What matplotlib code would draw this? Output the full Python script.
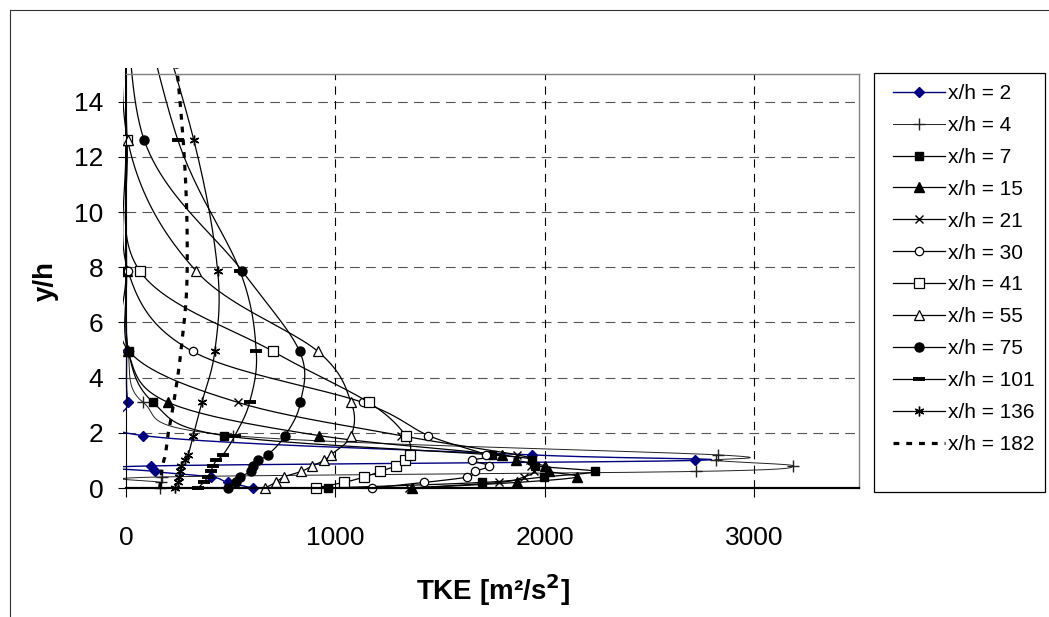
import numpy as np
import matplotlib
matplotlib.use("Agg")
import matplotlib.pyplot as plt
from matplotlib.lines import Line2D
from matplotlib.patches import Rectangle

plt.rcParams['font.family'] = ['Liberation Sans', 'DejaVu Sans']
plt.rcParams['lines.scale_dashes'] = False

# measuring heights y/h (the last one lies above the plotted range)
y_levels = [0, 0.2, 0.4, 0.6, 0.8, 1.0, 1.2, 1.9, 3.1, 4.95, 7.85, 12.6, 20]

labels = ["x/h = 2", "x/h = 4", "x/h = 7", "x/h = 15", "x/h = 21", "x/h = 30",
          "x/h = 41", "x/h = 55", "x/h = 75", "x/h = 101", "x/h = 136", "x/h = 182"]

# TKE [m2/s2] at each height, one list per station
tke_2 = [605, 486, 408, 138, 118, 2718, 1937, 80, 10, 3, 0, 0, 0]
tke_4 = [160, 165, 170, 2720, 3186, 2816, 2825, 510, 82, 10, 0, 0, 0]
tke_7 = [963, 1700, 1995, 2238, 1955, 1940, 1749, 467, 130, 12, 2, 0, 0]
tke_15 = [1368, 1865, 2154, 2020, 2000, 1864, 1794, 921, 202, 10, 3, 0, 0]
tke_21 = [1352, 1781, 1900, 1950, 1932, 1930, 1868, 1313, 535, 15, 0, 0, 0]
tke_30 = [1175, 1424, 1630, 1667, 1735, 1654, 1717, 1444, 1130, 318, 10, 0, 0]
tke_41 = [905, 1040, 1138, 1214, 1289, 1333, 1357, 1336, 1159, 702, 67, 5, 0]
tke_55 = [665, 714, 754, 837, 890, 945, 978, 1075, 1075, 916, 336, 8, 0]
tke_75 = [487, 527, 543, 598, 606, 630, 677, 760, 833, 829, 556, 87, 0]
tke_101 = [344, 371, 390, 405, 416, 432, 463, 520, 590, 622, 545, 248, 0]
tke_136 = [233, 249, 255, 260, 265, 281, 297, 321, 362, 424, 438, 324, 40]
tke_182 = [160, 165, 168, 170, 175, 180, 188, 200, 228, 262, 292, 273, 180]

series = [tke_2, tke_4, tke_7, tke_15, tke_21, tke_30,
          tke_41, tke_55, tke_75, tke_101, tke_136, tke_182]

styles = [
    dict(color='#000080', marker='D', ms=5.5, mfc='#000080', mec='#000080', lw=1.0),
    dict(color='#222222', marker='+', ms=8, mew=1.0, lw=0.7),
    dict(color='black', marker='s', ms=6, lw=0.9),
    dict(color='black', marker='^', ms=6.5, lw=0.9),
    dict(color='black', marker='x', ms=6, mew=1.0, lw=0.9),
    dict(color='black', marker='o', ms=6, mfc='white', mew=0.9, lw=0.9),
    dict(color='black', marker='s', ms=6.5, mfc='white', mew=0.9, lw=0.9),
    dict(color='black', marker='^', ms=7, mfc='white', mew=0.9, lw=0.9),
    dict(color='black', marker='o', ms=6.5, lw=0.9),
    dict(color='black', marker='_', ms=8, mew=2.8, lw=0.9),
    dict(color='black', marker=(6, 2, 0), ms=7, mew=1.0, lw=0.9),
    dict(color='black', marker='None', lw=2.3, dashes=(4.2, 5)),
]


# Excel-like smoothed line: bezier segments with catmull-rom control points
def smooth(x, y, n=24):
    p = np.column_stack([x, y]).astype(float)
    p = np.vstack([p[0], p, p[-1]])
    out = [p[1]]
    t = np.linspace(0, 1, n + 1)[1:, None]
    for i in range(1, len(p) - 2):
        p0, p1, p2, p3 = p[i - 1], p[i], p[i + 1], p[i + 2]
        c1 = p1 + (p2 - p0) / 6
        c2 = p2 - (p3 - p1) / 6
        seg = (1 - t)**3 * p1 + 3 * (1 - t)**2 * t * c1 + 3 * (1 - t) * t**2 * c2 + t**3 * p2
        out.extend(seg)
    return np.array(out), n


W, H = 1049, 617
fig = plt.figure(figsize=(W / 100, H / 100), dpi=100)
ax = fig.add_axes([126 / W, 1 - 488 / H, 733 / W, 414 / H])

clip = Rectangle((-0.004, -0.05), 1.004, 1.065, transform=ax.transAxes)

handles = []
for vals, st in zip(series, styles):
    curve, n = smooth(vals, y_levels)
    line, = ax.plot(curve[:, 0], curve[:, 1], markevery=[i * n for i in range(len(vals))], **st)
    line.set_clip_path(clip)
    handles.append(line)

ax.set_xlim(0, 3500)
ax.set_ylim(0, 15)
ax.set_xticks([0, 1000, 2000, 3000])
ax.set_yticks(range(0, 15, 2))

for y in range(2, 15, 2):
    ax.axhline(y, color='#555555', lw=0.8, dashes=(7, 4.5), zorder=0.5)
for x in [1000, 2000, 3000]:
    ax.axvline(x, color='black', lw=0.8, dashes=(6, 4.5), zorder=0.5)

ax.spines['left'].set_linewidth(0.8)
ax.spines['bottom'].set_linewidth(1.6)
for s in ['top', 'right']:
    ax.spines[s].set_color('#808080')
    ax.spines[s].set_linewidth(1.0)

ax.tick_params(axis='x', length=6.5, width=0.8, pad=21, labelsize=19)
ax.tick_params(axis='y', length=5.8, width=0.8, pad=10.5, labelsize=19)

ax.set_ylabel("y/h", fontsize=20, fontweight='bold', va='center')
ax.yaxis.set_label_coords(-0.11, 0.5)
ax.set_xlabel(r"TKE [m²/s$^\mathbf{2}$]", fontsize=20, fontweight='bold', va='center')
ax.xaxis.set_label_coords(0.5, -0.246)

# legend box drawn separately (Excel leaves extra room below the entries)
fig.add_artist(Rectangle((874 / W, 1 - 492 / H), 171 / W, 419 / H, transform=fig.transFigure,
                         facecolor='white', edgecolor='black', lw=0.9, zorder=4))
leg = fig.legend(handles, labels, loc='upper left', bbox_to_anchor=(893 / W, 1 - 84 / H),
                 borderaxespad=0, borderpad=0, fontsize=15, handlelength=2.5,
                 handletextpad=0.15, labelspacing=0.62, frameon=False)
leg.set_zorder(5)

# outer chart border
fig.add_artist(Line2D([10 / W, 10 / W], [0, 1 - 10 / H], transform=fig.transFigure,
                      color='#333333', lw=0.8))
fig.add_artist(Line2D([10 / W, 1], [1 - 10 / H, 1 - 10 / H], transform=fig.transFigure,
                      color='#333333', lw=0.8))

fig.savefig("out.png", dpi=100)
